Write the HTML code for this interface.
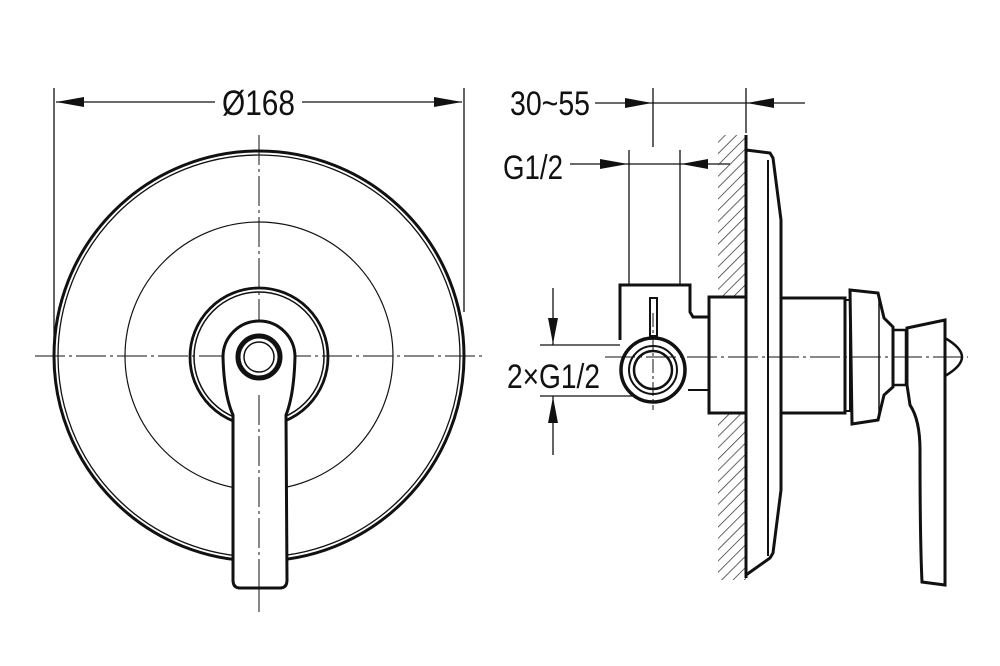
<!DOCTYPE html>
<html><head><meta charset="utf-8"><style>
html,body{margin:0;padding:0;background:#fff;}
svg{display:block;}
text{font-family:"Liberation Sans",sans-serif;fill:#111;}
</style></head><body>
<svg width="1000" height="666" viewBox="0 0 1000 666" xmlns="http://www.w3.org/2000/svg">
<defs>
<pattern id="h" width="8" height="8" patternUnits="userSpaceOnUse" patternTransform="rotate(45)">
<line x1="0" y1="0" x2="0" y2="8" stroke="#333" stroke-width="1.5"/>
</pattern>
</defs>
<g fill="none" stroke="#111">
<line x1="54" y1="88" x2="54" y2="360" stroke-width="1.3"/>
<line x1="464" y1="88" x2="464" y2="312" stroke-width="1.3"/>
<line x1="56" y1="102" x2="215" y2="102" stroke-width="1.3"/>
<line x1="302" y1="102" x2="462" y2="102" stroke-width="1.3"/>
<circle cx="259" cy="356" r="205" stroke-width="3"/>
<circle cx="259" cy="356" r="201" stroke-width="1.3"/>
<circle cx="259" cy="356" r="134" stroke-width="1.2"/>
<circle cx="259" cy="357" r="69" stroke-width="2.8"/>
<circle cx="259" cy="357" r="65" stroke-width="1.5"/>
<line x1="35" y1="356" x2="485" y2="356" stroke-width="1" stroke-dasharray="30,4,3,4"/>
<line x1="259" y1="135" x2="259" y2="612" stroke-width="1" stroke-dasharray="30,4,3,4"/>
<path d="M233 415 Q224 395 223 357 A36 36 0 0 1 295 357 Q294 395 286 415 L287 580 Q287 588 280 588 L240 588 Q233 588 233 580 Z" fill="#fff" stroke-width="3"/>
<line x1="259" y1="395" x2="259" y2="600" stroke-width="1" stroke-dasharray="30,4,3,4"/>
<circle cx="259" cy="357" r="21" stroke-width="5"/>
<circle cx="259" cy="357" r="15" stroke-width="1.5"/>

<line x1="595" y1="103" x2="805" y2="103" stroke-width="1.3"/>
<line x1="653" y1="88" x2="653" y2="147" stroke-width="1.3"/>
<line x1="746" y1="88" x2="746" y2="133" stroke-width="1.3"/>
<line x1="570" y1="164" x2="730" y2="164" stroke-width="1.3"/>
<line x1="629" y1="150" x2="629" y2="286" stroke-width="1.3"/>
<line x1="680" y1="150" x2="680" y2="286" stroke-width="1.3"/>
<line x1="540" y1="345" x2="620" y2="345" stroke-width="1.3"/>
<line x1="540" y1="396" x2="632" y2="396" stroke-width="1.3"/>
<line x1="553" y1="288" x2="553" y2="345" stroke-width="1.3"/>
<line x1="553" y1="396" x2="553" y2="455" stroke-width="1.3"/>
<rect x="718" y="135" width="28" height="162" fill="url(#h)" stroke="none"/>
<rect x="718" y="413" width="28" height="167" fill="url(#h)" stroke="none"/>
<line x1="746" y1="135" x2="746" y2="578" stroke-width="3"/>
<path d="M746 150 L770 153 L773 158 L781 220 L781 490 L773 553 L770 558 L746 575" stroke-width="3"/>
<line x1="768" y1="160" x2="768" y2="556" stroke-width="2"/>
<rect x="709" y="297" width="37" height="116" stroke-width="3"/>
<path d="M709 317 L693 317 L690 312 L690 285 L620 285 L620 340" stroke-width="3"/>
<line x1="688" y1="390" x2="709" y2="390" stroke-width="2"/>
<circle cx="653" cy="370" r="32" fill="#fff" stroke-width="3.5"/>
<circle cx="653" cy="370" r="24" stroke-width="2"/>
<circle cx="653" cy="370" r="19" stroke-width="2.5"/>
<rect x="650" y="298" width="7" height="38" fill="#fff" stroke-width="2"/>
<line x1="653" y1="313" x2="653" y2="410" stroke-width="1" stroke-dasharray="14,3,3,3"/>
<rect x="781" y="298" width="64" height="115" stroke-width="3"/>
<rect x="845" y="300" width="5" height="111" stroke-width="2"/>
<path d="M850 290 L878 293 L884 318 L893 327 L893 387 L884 395 L878 420 L852 424 Z" stroke-width="3"/>
<line x1="879" y1="295" x2="879" y2="418" stroke-width="1.5"/>
<rect x="893" y="330" width="13" height="55" stroke-width="2.5"/>
<path d="M907 328 L945 320 L945 585 L922 582 Q920 540 920 450 Q920 420 910 405 L907 385 Z" fill="#fff" stroke-width="3"/>
<path d="M945 338 Q962 348 962 357 Q962 366 945 376" stroke-width="2.5"/>
<line x1="605" y1="357" x2="968" y2="357" stroke-width="1" stroke-dasharray="30,4,3,4"/>
</g>
<g fill="#111">
<polygon points="56,102 84,97 84,107"/>
<polygon points="462,102 434,97 434,107"/>
<polygon points="652,103 625,98 625,108"/>
<polygon points="747,103 774,98 774,108"/>
<polygon points="628,164 600,159 600,169"/>
<polygon points="681,164 708,159 708,169"/>
<polygon points="553,344 548,318 558,318"/>
<polygon points="553,397 548,423 558,423"/>
</g>
<text x="222" y="115" font-size="35" textLength="73" lengthAdjust="spacingAndGlyphs">Ø168</text>
<text x="510" y="115" font-size="34" textLength="80" lengthAdjust="spacingAndGlyphs">30~55</text>
<text x="503" y="179" font-size="34" textLength="60" lengthAdjust="spacingAndGlyphs">G1/2</text>
<text x="507" y="388" font-size="34" textLength="93" lengthAdjust="spacingAndGlyphs">2×G1/2</text>
</svg>
</body></html>
